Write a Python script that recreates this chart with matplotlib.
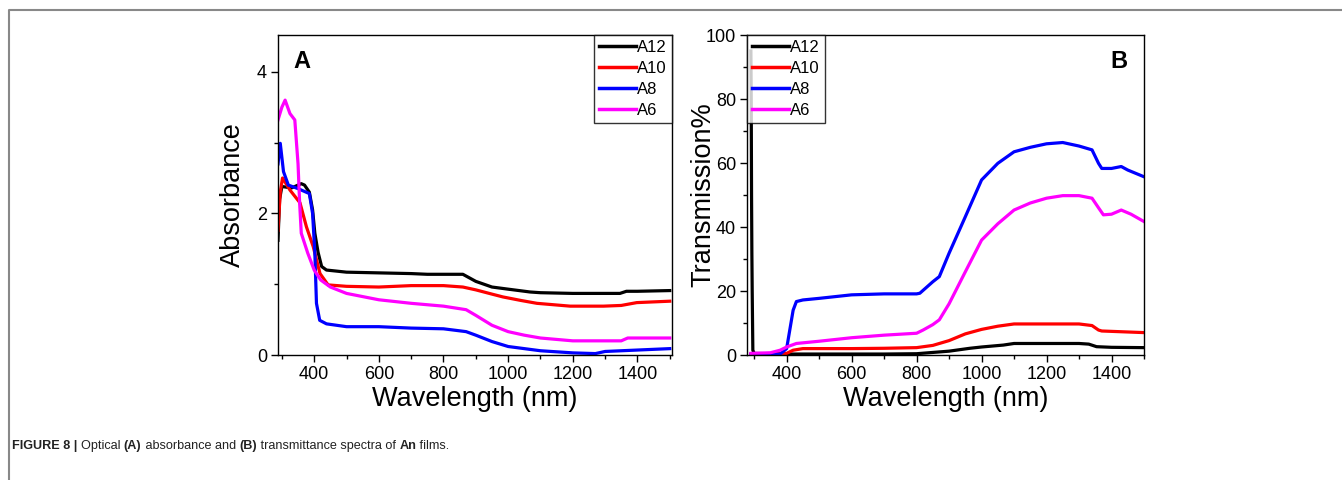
import numpy as np
import matplotlib
matplotlib.use('Agg')
import matplotlib.pyplot as plt
from matplotlib.lines import Line2D
from matplotlib.text import Annotation
from matplotlib.ticker import MultipleLocator

plt.rcParams['font.family'] = ['Liberation Sans', 'DejaVu Sans']

# ---- Panel A: absorbance ----
a12_wl = [288, 293, 300, 330, 360, 370, 385, 395, 402, 412, 423, 438, 500, 600, 700,
          750, 860, 900, 950, 1000, 1068, 1100, 1200, 1346, 1366, 1400, 1500]
a12_ab = [1.62, 2.20, 2.38, 2.36, 2.42, 2.40, 2.30, 2.05, 1.72, 1.45, 1.25, 1.20, 1.17, 1.16, 1.15,
          1.14, 1.14, 1.04, 0.96, 0.93, 0.89, 0.88, 0.87, 0.87, 0.90, 0.90, 0.91]

a10_wl = [288, 295, 302, 325, 356, 376, 397, 418, 443, 500, 600, 700, 800, 860,
          900, 950, 984, 1040, 1089, 1192, 1295, 1350, 1398, 1500]
a10_ab = [1.76, 2.30, 2.50, 2.33, 2.15, 1.81, 1.53, 1.15, 0.99, 0.97, 0.96, 0.98, 0.98, 0.96,
          0.92, 0.86, 0.82, 0.77, 0.73, 0.69, 0.69, 0.70, 0.74, 0.76]

a8_wl = [288, 295, 305, 320, 350, 385, 395, 402, 407, 417, 438, 500, 600, 700, 800,
         870, 900, 950, 1000, 1100, 1200, 1270, 1300, 1400, 1500]
a8_ab = [2.70, 2.99, 2.59, 2.40, 2.35, 2.28, 2.00, 1.44, 0.73, 0.49, 0.44, 0.40, 0.40, 0.38, 0.37,
         0.33, 0.28, 0.19, 0.12, 0.06, 0.03, 0.02, 0.05, 0.07, 0.09]

a6_wl = [288, 300, 310, 325, 340, 350, 355, 360, 380, 400, 420, 450, 500, 600, 700, 800,
         870, 900, 950, 1000, 1050, 1100, 1200, 1350, 1370, 1500]
a6_ab = [3.32, 3.50, 3.60, 3.41, 3.32, 2.70, 2.14, 1.72, 1.44, 1.20, 1.06, 0.96, 0.87, 0.78, 0.73, 0.69,
         0.64, 0.56, 0.42, 0.33, 0.28, 0.24, 0.20, 0.20, 0.24, 0.24]

# ---- Panel B: transmission ----
t12_wl = [290, 291, 292, 293, 294, 296, 300, 400, 500, 600, 700, 800, 850, 900, 964, 1000,
          1067, 1100, 1300, 1330, 1354, 1400, 1500]
t12_tr = [95, 80, 50, 31.8, 20, 1.5, 0.5, 0.3, 0.3, 0.3, 0.3, 0.4, 0.8, 1.2, 2.1, 2.5,
          3.1, 3.6, 3.6, 3.4, 2.6, 2.4, 2.3]

t10_wl = [290, 300, 400, 420, 450, 500, 600, 700, 800, 850, 900, 950, 1000, 1050, 1100,
          1300, 1340, 1360, 1370, 1500]
t10_tr = [0.3, 0.3, 0.5, 1.5, 2.0, 2.0, 2.0, 2.1, 2.3, 3.0, 4.5, 6.6, 8.0, 9.0, 9.7,
          9.7, 9.2, 7.8, 7.5, 7.0]

t8_wl = [290, 350, 380, 400, 410, 420, 430, 450, 500, 600, 700, 800, 810, 850, 870, 900,
         950, 1000, 1050, 1100, 1150, 1200, 1250, 1300, 1340, 1360, 1370, 1400, 1430, 1450, 1500]
t8_tr = [0.2, 0.1, 0.3, 2.0, 8.0, 14.0, 16.7, 17.2, 17.7, 18.8, 19.1, 19.1, 19.3, 22.9, 24.5, 31.8,
         43.2, 54.7, 59.9, 63.5, 64.9, 66.0, 66.4, 65.3, 64.1, 59.9, 58.3, 58.3, 58.9, 57.8, 55.7]

t6_wl = [290, 350, 380, 400, 430, 500, 600, 700, 800, 820, 850, 870, 900, 950, 1000, 1050,
         1100, 1150, 1200, 1250, 1300, 1340, 1360, 1375, 1400, 1430, 1460, 1500]
t6_tr = [0.5, 0.7, 1.5, 2.5, 3.6, 4.3, 5.4, 6.2, 6.8, 7.8, 9.5, 11.0, 16.0, 26.0, 35.9, 41.0,
         45.3, 47.5, 49.0, 49.8, 49.8, 49.0, 46.0, 43.8, 44.0, 45.3, 44.0, 41.7]

labels = ['A12', 'A10', 'A8', 'A6']
colors = ['#000000', '#ff0000', '#0000ff', '#ff00ff']

fig = plt.figure(figsize=(13.42, 4.8), dpi=100)
axA = fig.add_axes([278 / 1342, 125 / 480, 394 / 1342, 320 / 480])
axB = fig.add_axes([747 / 1342, 125 / 480, 397 / 1342, 320 / 480])

for wl, val, lab, c in zip([a12_wl, a10_wl, a8_wl, a6_wl], [a12_ab, a10_ab, a8_ab, a6_ab], labels, colors):
    axA.plot(wl, val, color=c, lw=2.3, label=lab)
for wl, val, lab, c in zip([t12_wl, t10_wl, t8_wl, t6_wl], [t12_tr, t10_tr, t8_tr, t6_tr], labels, colors):
    axB.plot(wl, val, color=c, lw=2.3, label=lab)

axA.set_xlim(288, 1507)
axA.set_ylim(0, 4.52)
axA.yaxis.set_major_locator(MultipleLocator(2))
axA.yaxis.set_minor_locator(MultipleLocator(1))
axA.set_ylabel('Absorbance', fontsize=19.5, labelpad=8)

axB.set_xlim(278, 1500)
axB.set_ylim(0, 100)
axB.yaxis.set_major_locator(MultipleLocator(20))
axB.yaxis.set_minor_locator(MultipleLocator(10))
axB.set_ylabel('Transmission%', fontsize=19.5, labelpad=-8)

for ax in (axA, axB):
    ax.xaxis.set_major_locator(MultipleLocator(200))
    ax.xaxis.set_minor_locator(MultipleLocator(100))
    ax.set_xlabel('Wavelength (nm)', fontsize=19.5, labelpad=2)
    ax.tick_params(which='major', direction='out', length=5, width=1, labelsize=13, pad=3)
    ax.tick_params(which='minor', direction='out', length=3, width=1)
    for s in ax.spines.values():
        s.set_linewidth(1)

axA.text(0.038, 0.897, 'A', transform=axA.transAxes, fontsize=17, fontweight='bold')
axB.text(0.915, 0.897, 'B', transform=axB.transAxes, fontsize=17, fontweight='bold')

legA = axA.legend(loc='upper right', fontsize=12, frameon=True, fancybox=False,
                  edgecolor='black', borderaxespad=0, handlelength=2.2,
                  handletextpad=0.1, labelspacing=0.35, borderpad=0.3)
legB = axB.legend(loc='upper left', fontsize=12, frameon=True, fancybox=False,
                  edgecolor='black', borderaxespad=0, handlelength=2.2,
                  handletextpad=0.1, labelspacing=0.35, borderpad=0.3)
for leg in (legA, legB):
    leg.get_frame().set_linewidth(1)
    for h in leg.get_lines():
        h.set_linewidth(2.5)

# page frame (grey rule on top and left)
fig.add_artist(Line2D([9 / 1342, 9 / 1342, 1.0], [0.0, 470 / 480, 470 / 480],
                      transform=fig.transFigure, color='#888888', lw=1.5))

# caption, pieced together so bold parts can be mixed in
parts = [('FIGURE 8 | ', 'bold'), ('Optical ', 'normal'), ('(A)', 'bold'),
         (' absorbance and ', 'normal'), ('(B)', 'bold'),
         (' transmittance spectra of ', 'normal'), ('An', 'bold'), (' films.', 'normal')]
prev = fig.text(12 / 1342, 1 - 452 / 480, parts[0][0], fontsize=9.1,
                fontweight=parts[0][1], color='#222222', va='bottom')
for txt, w in parts[1:]:
    ann = Annotation(txt, xy=(1, 0), xycoords=prev, fontsize=9.1, fontweight=w,
                     color='#222222', ha='left', va='bottom')
    fig.add_artist(ann)
    prev = ann

fig.savefig('out.png', dpi=100)
